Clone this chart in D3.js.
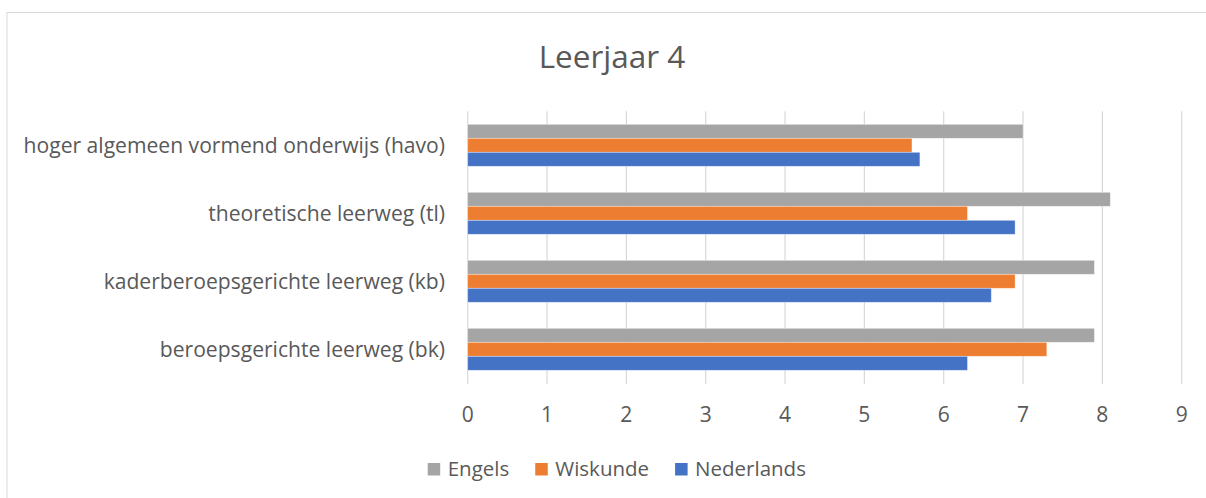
<!DOCTYPE html>
<html>
<head>
<meta charset="utf-8">
<script src="https://cdn.jsdelivr.net/npm/d3@7"></script>
<style>
  body { margin: 0; background: #fff; }
  svg { display: block; font-family: "Open Sans", sans-serif; }
</style>
</head>
<body>
<svg id="chart"></svg>
<script>
const width = 1206;
const height = 498;

// data, bottom category first (as in the sheet)
const categories = [
    "beroepsgerichte leerweg (bk)",
    "kaderberoepsgerichte leerweg (kb)",
    "theoretische leerweg (tl)",
    "hoger algemeen vormend onderwijs (havo)"
];
const nederlands = [6.3, 6.6, 6.9, 5.7];
const wiskunde = [7.3, 6.9, 6.3, 5.6];
const engels = [7.9, 7.9, 8.1, 7.0];
const seriesNames = ["Engels", "Wiskunde", "Nederlands"];
const xTicks = [0, 1, 2, 3, 4, 5, 6, 7, 8, 9];

const colors = { Engels: "#a5a5a5", Wiskunde: "#ed7d31", Nederlands: "#4472c4" };
const values = { Engels: engels, Wiskunde: wiskunde, Nederlands: nederlands };
const textColor = "#595959";

const svg = d3.select("#chart").attr("width", width).attr("height", height);

// chart frame
svg.append("rect")
    .attr("x", 7)
    .attr("y", 12.5)
    .attr("width", width + 10)
    .attr("height", height + 10)
    .attr("fill", "#fff")
    .attr("stroke", "#d9d9d9")
    .attr("stroke-width", 1);

const x = d3.scaleLinear().domain([0, 9]).range([467.7, 1181.7]);

const y = d3.scaleBand()
    .domain(categories.slice().reverse())
    .range([111.3, 383.3])
    .paddingInner(26 / 68)
    .paddingOuter(13 / 68);

const inner = d3.scaleBand()
    .domain(seriesNames)
    .range([0, y.bandwidth()]);

// gridlines
svg.append("g")
    .selectAll("line")
    .data(xTicks)
    .join("line")
    .attr("x1", d => x(d))
    .attr("x2", d => x(d))
    .attr("y1", 111.3)
    .attr("y2", 384)
    .attr("stroke", "#d9d9d9")
    .attr("stroke-width", 1.2);

// bars
const rows = [];
categories.forEach((c, i) => {
    seriesNames.forEach(s => rows.push({ cat: c, series: s, value: values[s][i] }));
});

svg.append("g")
    .selectAll("rect")
    .data(rows)
    .join("rect")
    .attr("x", x(0))
    .attr("y", d => y(d.cat) + inner(d.series))
    .attr("width", d => x(d.value) - x(0))
    .attr("height", inner.bandwidth())
    .attr("fill", d => colors[d.series])
    .attr("stroke", "#fff")
    .attr("stroke-opacity", 0.5)
    .attr("stroke-width", 0.75);

// category labels
svg.append("g")
    .selectAll("text")
    .data(categories)
    .join("text")
    .attr("x", 445)
    .attr("y", d => y(d) + y.bandwidth() / 2 + 7.6)
    .attr("text-anchor", "end")
    .attr("font-size", 21.1)
    .attr("fill", textColor)
    .text(d => d);

// x tick labels
svg.append("g")
    .selectAll("text")
    .data(xTicks)
    .join("text")
    .attr("x", d => x(d))
    .attr("y", 422)
    .attr("text-anchor", "middle")
    .attr("font-size", 21)
    .attr("fill", textColor)
    .text(d => d);

// title
svg.append("text")
    .attr("x", 612)
    .attr("y", 68.3)
    .attr("text-anchor", "middle")
    .attr("font-size", 31.5)
    .attr("fill", textColor)
    .text("Leerjaar 4");

// legend
const legend = svg.append("g");
let lx = 427.7;
seriesNames.forEach(s => {
    legend.append("rect")
        .attr("x", lx)
        .attr("y", 463)
        .attr("width", 12.5)
        .attr("height", 12.5)
        .attr("fill", colors[s]);
    const t = legend.append("text")
        .attr("x", lx + 20)
        .attr("y", 475.7)
        .attr("font-size", 20.5)
        .attr("fill", textColor)
        .text(s);
    lx += 20 + t.node().getComputedTextLength() + 26;
});
</script>
</body>
</html>
